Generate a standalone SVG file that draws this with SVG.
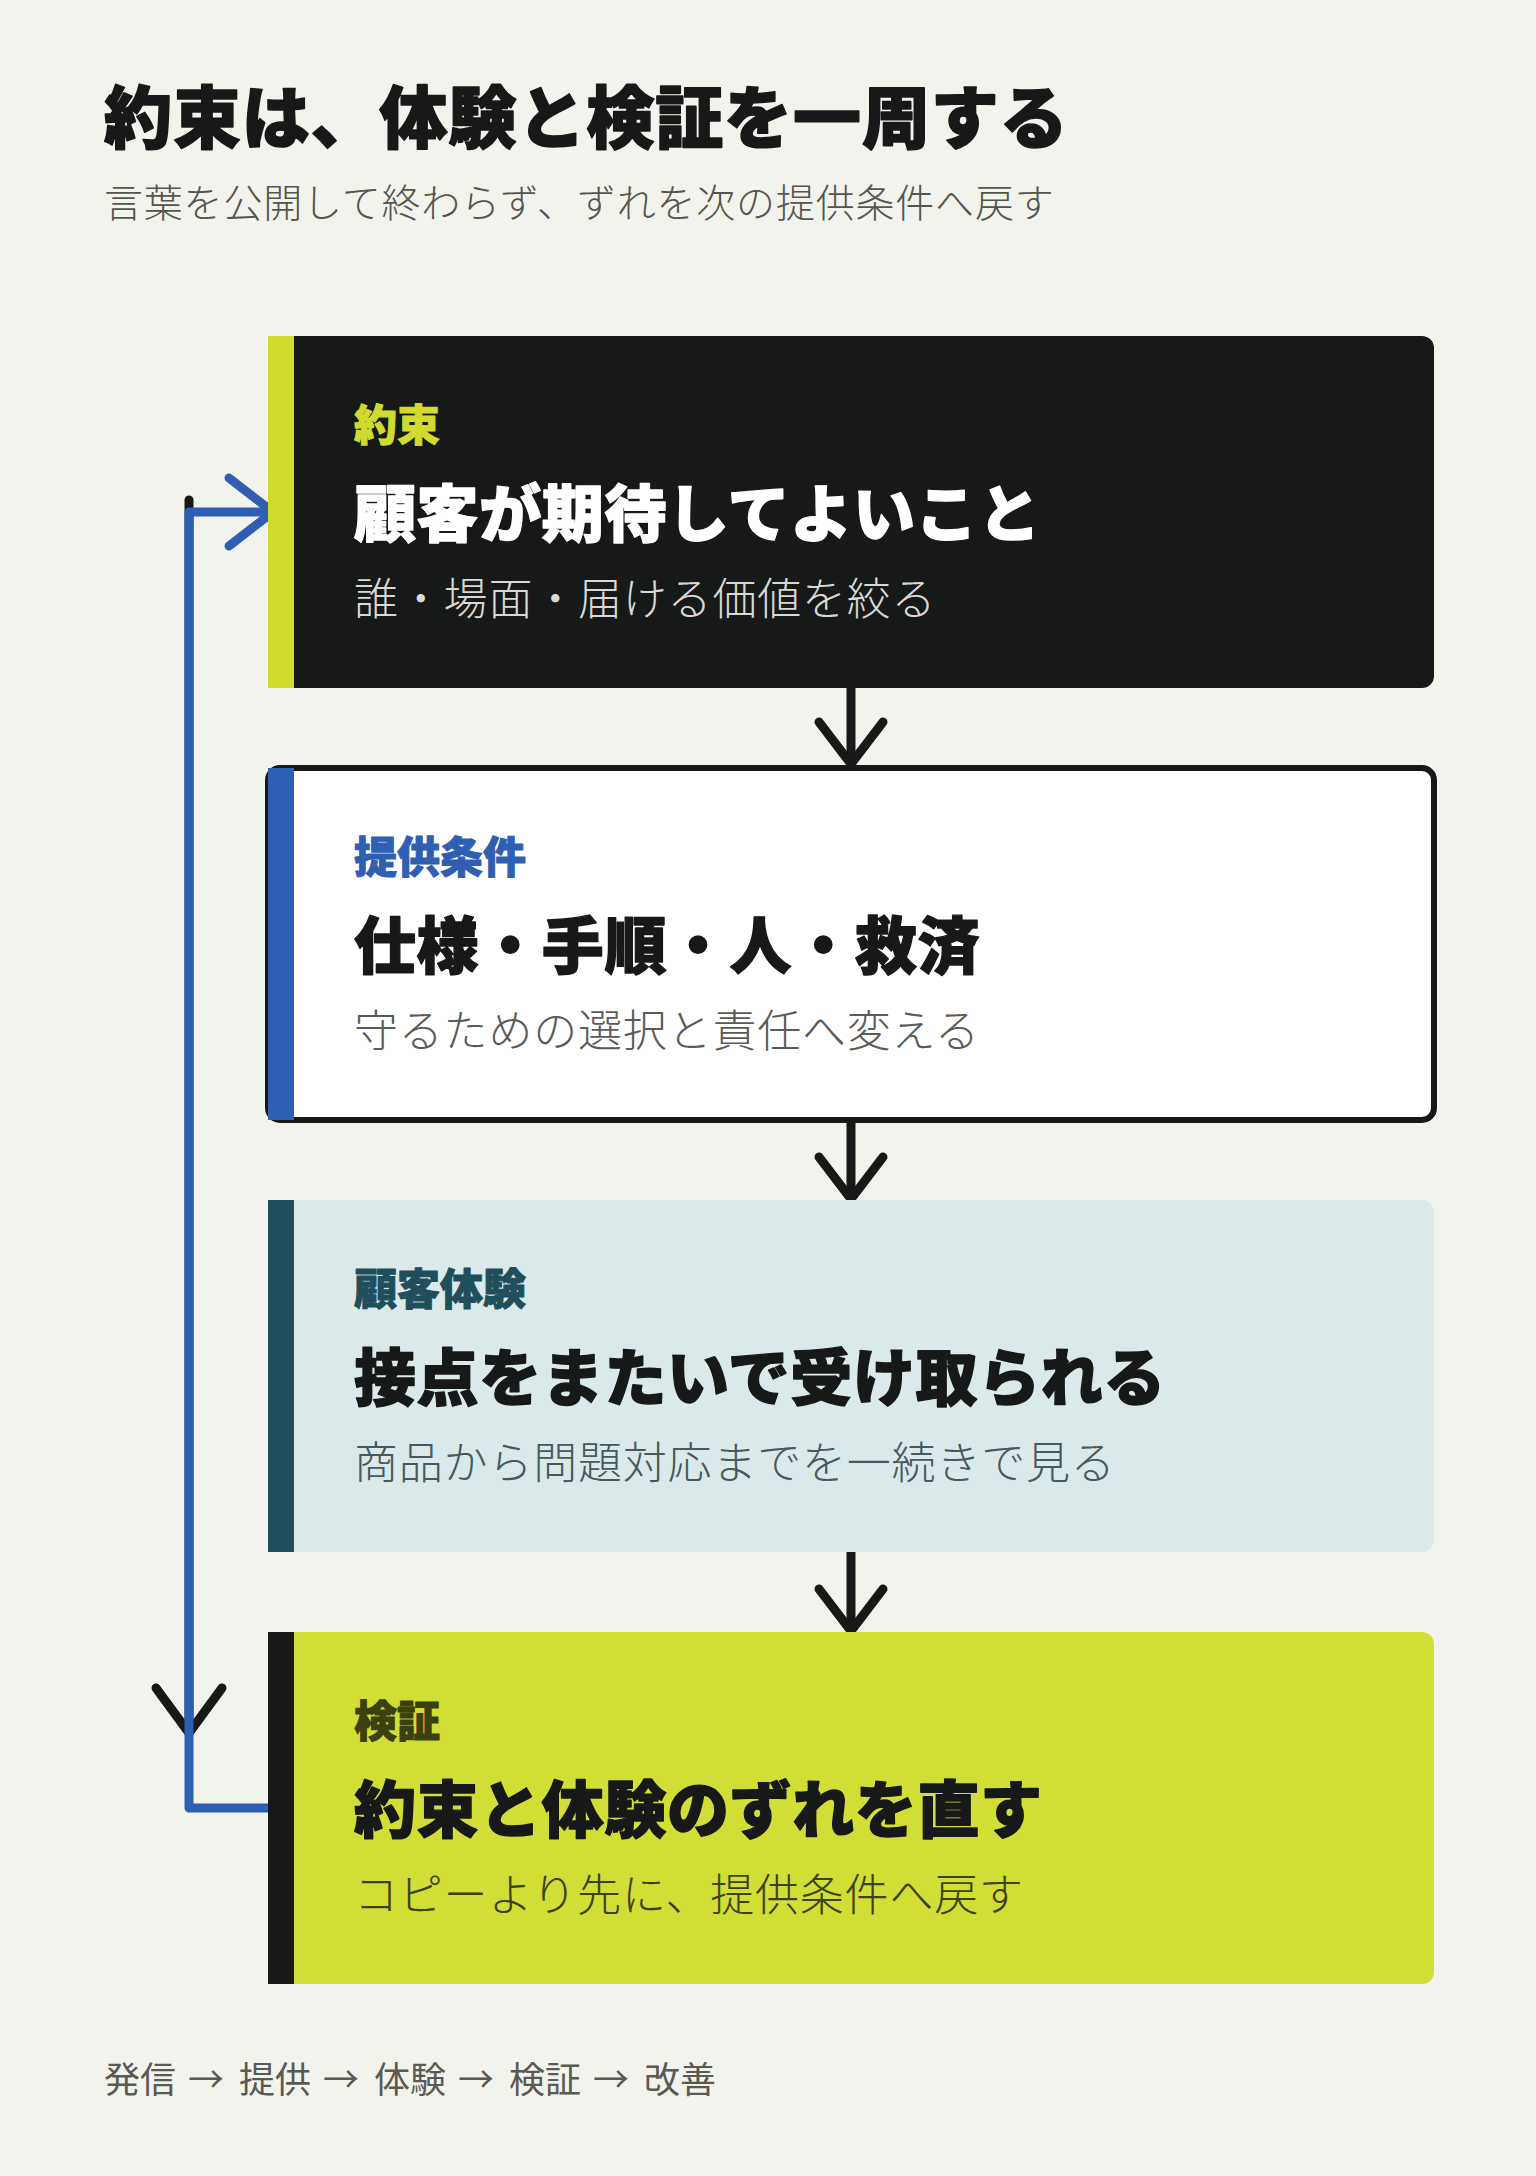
<svg xmlns="http://www.w3.org/2000/svg" width="1536" height="2176" viewBox="0 0 1536 2176">
  <defs>
    <style>
      .jp { font-family: "Noto Sans CJK JP", "Noto Sans CJK SC", sans-serif; }
      .title { font-size: 68px; font-weight: 900; fill: #171918; stroke: #171918; stroke-width: 1.6; stroke-linejoin: round; letter-spacing: 0.9px; }
      .subtitle { font-size: 39px; font-weight: 300; fill: #55554f; letter-spacing: 0.8px; }
      .label { font-size: 43px; font-weight: 900; stroke-width: 1; stroke-linejoin: round; }
      .main { font-size: 62px; font-weight: 900; stroke-width: 1.4; stroke-linejoin: round; letter-spacing: 0.6px; }
      .sub { font-size: 44px; font-weight: 300; letter-spacing: 0.8px; }
      .footer { font-size: 36px; font-weight: 400; fill: #5a5a55; }
      .conn { fill: none; stroke: #171918; stroke-width: 9; stroke-linecap: round; stroke-linejoin: round; }
      .loop { fill: none; stroke: #2f5fb3; stroke-width: 9; stroke-linecap: round; stroke-linejoin: round; }
    </style>
  </defs>

  <rect x="0" y="0" width="1536" height="2176" fill="#f3f3ed"/>

  <g id="header">
    <text class="jp title" x="104" y="143">約束は、体験と検証を一周する</text>
    <text class="jp subtitle" x="104" y="217">言葉を公開して終わらず、ずれを次の提供条件へ戻す</text>
  </g>

  <g id="connectors">
    <!-- black return edge under the blue loop -->
    <path class="conn" d="M189 500 L189 1733"/>
    <path class="conn" d="M156 1688 L189 1733 L222 1688"/>
    <!-- flow arrows -->
    <path class="conn" d="M851 684 L851 764"/>
    <path class="conn" d="M819 722 L851 764 L883 722"/>
    <path class="conn" d="M851 1116 L851 1199"/>
    <path class="conn" d="M819 1157 L851 1199 L883 1157"/>
    <path class="conn" d="M851 1548 L851 1631"/>
    <path class="conn" d="M819 1589 L851 1631 L883 1589"/>
    <!-- feedback loop -->
    <path class="loop" d="M271 1808 L189 1808 L189 512 L272 512"/>
    <path class="loop" d="M229 478 L273 512 L229 546"/>
  </g>

  <g id="node-promise">
    <rect x="268" y="336" width="1166" height="352" rx="12" fill="#171918"/>
    <rect x="268" y="336" width="26" height="352" fill="#cfdc2f"/>
    <text class="jp label" x="354" y="441" fill="#cfdc2f" stroke="#cfdc2f">約束</text>
    <text class="jp main" x="354" y="537" fill="#ffffff" stroke="#ffffff">顧客が期待してよいこと</text>
    <text class="jp sub" x="354" y="615" fill="#d8d8d4">誰・場面・届ける価値を絞る</text>
  </g>

  <g id="node-conditions">
    <rect x="268" y="768" width="1166" height="352" rx="12" fill="#ffffff" stroke="#171918" stroke-width="6"/>
    <rect x="268" y="768" width="26" height="352" fill="#2f5fb3"/>
    <text class="jp label" x="354" y="873" fill="#2f5fb3" stroke="#2f5fb3">提供条件</text>
    <text class="jp main" x="354" y="969" fill="#171918" stroke="#171918">仕様・手順・人・救済</text>
    <text class="jp sub" x="354" y="1047" fill="#5b5b58">守るための選択と責任へ変える</text>
  </g>

  <g id="node-experience">
    <rect x="268" y="1200" width="1166" height="352" rx="12" fill="#dbe9ea"/>
    <rect x="268" y="1200" width="26" height="352" fill="#1f4f5b"/>
    <text class="jp label" x="354" y="1305" fill="#1f4f5b" stroke="#1f4f5b">顧客体験</text>
    <text class="jp main" x="354" y="1401" fill="#171918" stroke="#171918">接点をまたいで受け取られる</text>
    <text class="jp sub" x="354" y="1479" fill="#48595d">商品から問題対応までを一続きで見る</text>
  </g>

  <g id="node-verify">
    <rect x="268" y="1632" width="1166" height="352" rx="12" fill="#d1de35"/>
    <rect x="268" y="1632" width="26" height="352" fill="#171918"/>
    <text class="jp label" x="354" y="1737" fill="#3b400f" stroke="#3b400f">検証</text>
    <text class="jp main" x="354" y="1833" fill="#171918" stroke="#171918">約束と体験のずれを直す</text>
    <text class="jp sub" x="354" y="1911" fill="#3d4212">コピーより先に、提供条件へ戻す</text>
  </g>

  <g id="footer">
    <text class="jp footer" y="2093"><tspan x="104">発信</tspan><tspan x="188">→</tspan><tspan x="239">提供</tspan><tspan x="323">→</tspan><tspan x="374">体験</tspan><tspan x="458">→</tspan><tspan x="509">検証</tspan><tspan x="593">→</tspan><tspan x="644">改善</tspan></text>
  </g>
</svg>
